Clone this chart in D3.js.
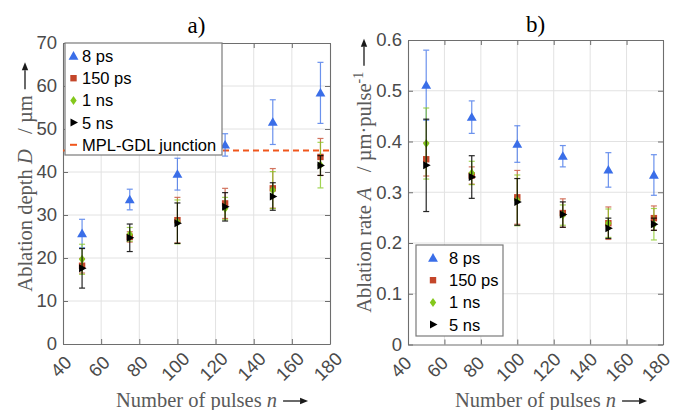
<!doctype html>
<html lang="en">
<head>
<meta charset="utf-8">
<title>Ablation depth and rate</title>
<script src="https://d3js.org/d3.v7.min.js"></script>
<style>
  body { margin: 0; background: #fff; }
  svg { display: block; }
</style>
</head>
<body>
<script>
// ---- data ----
const pulses = [50, 75, 100, 125, 150, 175];
const seriesNames = ["8 ps", "150 ps", "1 ns", "5 ns"];

const depth8ps   = [25.7, 33.6, 39.5, 46.3, 51.6, 58.4];
const depth8psErr = [3.3, 2.4, 3.7, 2.6, 5.2, 7.1];
const depth150ps = [18.2, 24.9, 28.8, 32.7, 36.2, 43.5];
const depth150psErr = [1.7, 1.2, 5.3, 3.5, 4.6, 4.3];
const depth1ns   = [19.7, 25.5, 28.4, 31.5, 35.8, 41.6];
const depth1nsErr = [3.5, 1.6, 5.1, 2.6, 4.3, 5.3];
const depth5ns   = [17.6, 24.7, 28.1, 31.9, 34.3, 41.5];
const depth5nsErr = [4.6, 3.2, 4.7, 3.3, 3.2, 2.3];

const rate8ps   = [0.511, 0.448, 0.395, 0.371, 0.344, 0.334];
const rate8psErr = [0.069, 0.032, 0.036, 0.021, 0.034, 0.040];
const rate150ps = [0.365, 0.333, 0.290, 0.259, 0.239, 0.249];
const rate150psErr = [0.033, 0.017, 0.053, 0.028, 0.032, 0.024];
const rate1ns   = [0.396, 0.338, 0.284, 0.255, 0.239, 0.237];
const rate1nsErr = [0.070, 0.023, 0.050, 0.020, 0.028, 0.031];
const rate5ns   = [0.353, 0.330, 0.281, 0.256, 0.229, 0.237];
const rate5nsErr = [0.091, 0.042, 0.046, 0.025, 0.020, 0.012];

const junctionDepth = 45;
const xTicks = [40, 60, 80, 100, 120, 140, 160, 180];
const depthTicks = [0, 10, 20, 30, 40, 50, 60, 70];
const rateTicks = [0, 0.1, 0.2, 0.3, 0.4, 0.5, 0.6];

// ---- styling ----
const colors = ["#3a6ee8", "#c4462a", "#84c81c", "#000000"];
const junctionColor = "#f0561c";
const sans = "'Liberation Sans', Arial, sans-serif";
const serif = "'Liberation Serif', 'Times New Roman', serif";
const tickColor = "#4a4a4a";
const axisColor = "#6e6e6e";

const svg = d3.select("body").append("svg")
    .attr("width", 675)
    .attr("height", 410);

function marker(g, i, x, y) {
    if (i === 0) {
        g.append("path").attr("d", d3.symbol(d3.symbolTriangle, 42)())
            .attr("transform", `translate(${x},${y + 0.8})`).attr("fill", colors[0]);
    } else if (i === 1) {
        g.append("rect").attr("x", x - 3.2).attr("y", y - 3.2)
            .attr("width", 6.4).attr("height", 6.4).attr("fill", colors[1]);
    } else if (i === 2) {
        g.append("path").attr("d", `M${x},${y - 4.5}L${x + 3.2},${y}L${x},${y + 4.5}L${x - 3.2},${y}Z`)
            .attr("fill", colors[2]);
    } else {
        g.append("path").attr("d", `M${x - 3},${y - 4}L${x + 4.5},${y}L${x - 3},${y + 4}Z`)
            .attr("fill", colors[3]);
    }
}

function arrow(g, x1, y1, x2, y2) {
    const a = Math.atan2(y2 - y1, x2 - x1);
    const hl = 8, hw = 3.2;
    const bx = x2 - hl * Math.cos(a), by = y2 - hl * Math.sin(a);
    g.append("line").attr("x1", x1).attr("y1", y1).attr("x2", bx).attr("y2", by)
        .attr("stroke", "#1a1a1a").attr("stroke-width", 1.3);
    g.append("path")
        .attr("d", `M${x2},${y2}L${bx - hw * Math.sin(a)},${by + hw * Math.cos(a)}L${bx + hw * Math.sin(a)},${by - hw * Math.cos(a)}Z`)
        .attr("fill", "#1a1a1a");
}

function panel(opt) {
    const x = d3.scaleLinear().domain([40, 180]).range([opt.left, opt.right]);
    const y = d3.scaleLinear().domain(opt.yDomain).range([opt.bottom, opt.top]);
    const g = svg.append("g");

    // grid
    g.selectAll(".gx").data(xTicks.slice(1, -1)).enter().append("line")
        .attr("x1", d => x(d)).attr("x2", d => x(d))
        .attr("y1", opt.top).attr("y2", opt.bottom)
        .attr("stroke", "#e2e2e2").attr("stroke-width", 1);
    g.selectAll(".gy").data(opt.yTicks.slice(1, -1)).enter().append("line")
        .attr("x1", opt.left).attr("x2", opt.right)
        .attr("y1", d => y(d)).attr("y2", d => y(d))
        .attr("stroke", "#e2e2e2").attr("stroke-width", 1);

    // axes (ticks inside, box on)
    const axL = d3.axisLeft(y).tickValues(opt.yTicks).tickSizeInner(-5).tickSizeOuter(0)
        .tickPadding(6).tickFormat(opt.yFormat);
    const axR = d3.axisRight(y).tickValues(opt.yTicks).tickSizeInner(-5).tickSizeOuter(0).tickFormat("");
    const axB = d3.axisBottom(x).tickValues(xTicks).tickSizeInner(-5).tickSizeOuter(0).tickFormat(d3.format("d"));
    const axT = d3.axisTop(x).tickValues(xTicks).tickSizeInner(-5).tickSizeOuter(0).tickFormat("");

    const gl = g.append("g").attr("transform", `translate(${opt.left},0)`).call(axL);
    g.append("g").attr("transform", `translate(${opt.right},0)`).call(axR);
    const gb = g.append("g").attr("transform", `translate(0,${opt.bottom})`).call(axB);
    g.append("g").attr("transform", `translate(0,${opt.top})`).call(axT);

    g.selectAll(".domain").attr("stroke", axisColor).attr("stroke-width", 1.1);
    g.selectAll(".tick line").attr("stroke", axisColor).attr("stroke-width", 1);
    gl.selectAll("text").attr("font-family", sans).attr("font-size", 18.5).attr("fill", tickColor);
    gb.selectAll("text").attr("font-family", sans).attr("font-size", 18.5).attr("fill", tickColor)
        .attr("text-anchor", "middle").attr("dy", null).attr("y", 0)
        .attr("transform", `translate(${opt.xLabelDx},27) rotate(-45)`);

    // junction line
    if (opt.junction != null) {
        g.append("line").attr("x1", opt.left).attr("x2", opt.right)
            .attr("y1", y(opt.junction)).attr("y2", y(opt.junction))
            .attr("stroke", junctionColor).attr("stroke-width", 1.8)
            .attr("stroke-dasharray", "6,4");
    }

    // error bars + markers
    opt.series.forEach((s, i) => {
        const sg = g.append("g");
        pulses.forEach((n, k) => {
            const cx = x(n), lo = y(s.v[k] - s.e[k]), hi = y(s.v[k] + s.e[k]);
            const eg = sg.append("g").attr("stroke", colors[i])
                .attr("stroke-width", 1.2).attr("opacity", i === 3 ? 0.85 : 0.75);
            eg.append("line").attr("x1", cx).attr("x2", cx).attr("y1", lo).attr("y2", hi);
            eg.append("line").attr("x1", cx - 3).attr("x2", cx + 3).attr("y1", lo).attr("y2", lo);
            eg.append("line").attr("x1", cx - 3).attr("x2", cx + 3).attr("y1", hi).attr("y2", hi);
        });
        pulses.forEach((n, k) => marker(sg, i, x(n), y(s.v[k])));
    });

    // title
    svg.append("text").attr("x", (opt.left + opt.right) / 2).attr("y", opt.titleY)
        .attr("text-anchor", "middle").attr("font-family", serif).attr("font-size", 23)
        .attr("fill", "#000").text(opt.title);

    // x label
    const cx = (opt.left + opt.right) / 2;
    const xl = svg.append("text").attr("x", cx).attr("y", 407)
        .attr("text-anchor", "middle").attr("font-family", serif).attr("font-size", 20.5)
        .attr("fill", "#5a5a5a");
    xl.append("tspan").text("Number of pulses ");
    xl.append("tspan").attr("font-style", "italic").text("n");
    const xw = xl.node().getComputedTextLength();
    arrow(svg, cx + xw / 2 + 6, 401, cx + xw / 2 + 31, 401);

    // y label
    const cy = (opt.top + opt.bottom) / 2;
    const yg = svg.append("g").attr("transform", `translate(${opt.yLabelX},${cy}) rotate(-90)`);
    const yl = yg.append("text").attr("x", 0).attr("y", 0).attr("text-anchor", "middle")
        .attr("font-family", serif).attr("font-size", 20.5).attr("fill", "#5a5a5a");
    opt.yLabel(yl);
    const yw = yl.node().getComputedTextLength();
    arrow(yg, yw / 2 + 6, -7, yw / 2 + 33, -7);

    // legend
    const lg = svg.append("g");
    lg.append("rect").attr("x", opt.legend.x).attr("y", opt.legend.y)
        .attr("width", opt.legend.w).attr("height", opt.legend.h)
        .attr("fill", "#fff").attr("stroke", "#7a7a7a").attr("stroke-width", 1.2);
    const labels = opt.junction != null ? seriesNames.concat(["MPL-GDL junction"]) : seriesNames;
    labels.forEach((name, i) => {
        const ry = opt.legend.y + opt.legend.row0 + i * 22.2;
        if (i < 4) marker(lg, i, opt.legend.mx, ry);
        else lg.append("line").attr("x1", opt.legend.mx - 3.5).attr("x2", opt.legend.mx + 3.5)
            .attr("y1", ry).attr("y2", ry).attr("stroke", junctionColor).attr("stroke-width", 2);
        lg.append("text").attr("x", opt.legend.tx).attr("y", ry + 6)
            .attr("font-family", sans).attr("font-size", 16.5).attr("fill", "#000").text(name);
    });
}

panel({
    left: 63, right: 330, top: 43, bottom: 344,
    yDomain: [0, 70], yTicks: depthTicks, yFormat: d3.format("d"),
    junction: junctionDepth, title: "a)", titleY: 33, yLabelX: 32, xLabelDx: 2,
    yLabel: t => {
        t.append("tspan").text("Ablation depth ");
        t.append("tspan").attr("font-style", "italic").text("D");
        t.append("tspan").text("\u2002 / \u00b5m");
    },
    series: [
        { v: depth8ps, e: depth8psErr },
        { v: depth150ps, e: depth150psErr },
        { v: depth1ns, e: depth1nsErr },
        { v: depth5ns, e: depth5nsErr }
    ],
    legend: { x: 65, y: 43, w: 157, h: 112, row0: 13, mx: 73.5, tx: 82 }
});

panel({
    left: 408, right: 663, top: 40, bottom: 344.5,
    yDomain: [0, 0.6], yTicks: rateTicks, yFormat: d => d === 0 ? "0" : d3.format(".1f")(d),
    junction: null, title: "b)", titleY: 32, yLabelX: 371, xLabelDx: -3,
    yLabel: t => {
        t.append("tspan").text("Ablation rate ");
        t.append("tspan").attr("font-style", "italic").text("A");
        t.append("tspan").text("\u2002 / \u00b5m\u00b7pulse");
        t.append("tspan").attr("font-size", 14).attr("dy", -8).text("-1");
    },
    series: [
        { v: rate8ps, e: rate8psErr },
        { v: rate150ps, e: rate150psErr },
        { v: rate1ns, e: rate1nsErr },
        { v: rate5ns, e: rate5nsErr }
    ],
    legend: { x: 416, y: 245, w: 87, h: 91, row0: 13, mx: 433, tx: 449 }
});
</script>
</body>
</html>
